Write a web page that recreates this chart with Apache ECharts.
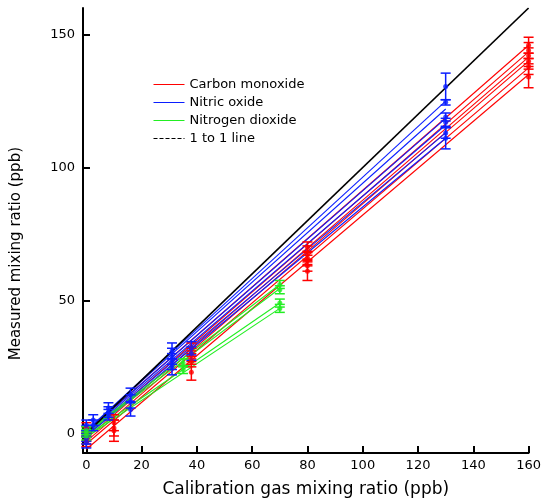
<!DOCTYPE html>
<html>
<head>
<meta charset="utf-8">
<script src="https://cdn.jsdelivr.net/npm/echarts@6/dist/echarts.min.js"></script>
<style>html,body{margin:0;padding:0;background:#fff}#c{width:544px;height:503px}</style>
</head>
<body>
<div id="c"></div>
<script>
// ---- Data ----
const xTicks = [0, 20, 40, 60, 80, 100, 120, 140, 160];
const yTicks = [0, 50, 100, 150];

// Carbon monoxide: calibration levels, measured values and error half-widths
const coLevels = [0, 10, 38, 80, 160];
const coValues = [[2, 0.5, -1, -2, -3], [4, 2, 1], [32, 30, 29, 27, 23], [70, 68, 66, 65, 63, 61], [146, 144, 142, 140, 138, 134]];
const coErrors = [[2, 2, 2, 2, 2], [3, 3, 4], [2, 2, 2, 2, 3], [2, 2.5, 2.5, 2, 2, 3.5], [3, 3, 3, 3, 3, 4]];
const coFitX = [0, 160];
const coFitStart = [0.5, -1, -2, -3, -4, -6];
const coFitEnd = [146, 143.5, 141.5, 140, 137.5, 135];

// Nitric oxide
const noLevels = [0, 2.5, 8, 16, 31, 38, 130];
const noValues = [[3, 1, -1, -2, -3.5], [5, 3], [9.5, 8, 7], [14.5, 12, 9], [31, 29, 27, 25], [32, 30], [130.5, 124.5, 119, 117, 113, 111]];
const noErrors = [[2, 2, 2, 2, 2], [2, 2], [2, 2, 2], [2.5, 2.5, 2.5], [3, 3, 3, 3], [2.5, 2.5], [5, 1, 1.5, 1.5, 2, 4]];
const noFitX = [0, 130];
const noFitStart = [1, 1, 0.5, 0, -0.5, -1];
const noFitEnd = [125, 122, 118.5, 116, 113, 111];

// Nitrogen dioxide
const no2Levels = [0, 35, 70];
const no2Values = [[1, 0, -1], [26.5, 24], [56, 54, 49, 47]];
const no2Errors = [[1.5, 1.5, 1.5], [1.5, 1.5], [1.5, 1.5, 1.5, 1.5]];
const no2FitX = [0, 70];
const no2FitStart = [0.5, 0, -1, -1.5];
const no2FitEnd = [56, 54.5, 49, 47];

// 1 to 1 line
const oneToOneX = [0, 160];
const oneToOneY = [0, 160];

const RED = '#ff0000', BLUE = '#0a1eff', GREEN = '#22ee22';

function points(levels, values, errors) {
  const out = [];
  levels.forEach((x, i) => values[i].forEach((y, j) => out.push([x, y, errors[i][j]])));
  return out;
}
function fitSeries(name, xs, starts, ends, color) {
  return starts.map((s, i) => ({
    type: 'line', name: name, data: [[xs[0], s], [xs[1], ends[i]]],
    symbol: 'none', silent: true, animation: false,
    itemStyle: { color: color },
    lineStyle: { color: color, width: 1.1 }, z: 2
  }));
}
function errSeries(name, data, color) {
  return {
    type: 'custom', name: name, data: data, animation: false, z: 4,
    renderItem: function (params, api) {
      const x = api.value(0), y = api.value(1), e = api.value(2);
      const top = api.coord([x, y + e]), bot = api.coord([x, y - e]);
      const w = 5;
      const st = { stroke: color, lineWidth: 1.5 };
      return { type: 'group', children: [
        { type: 'line', shape: { x1: top[0], y1: top[1], x2: bot[0], y2: bot[1] }, style: st },
        { type: 'line', shape: { x1: top[0] - w, y1: top[1], x2: top[0] + w, y2: top[1] }, style: st },
        { type: 'line', shape: { x1: bot[0] - w, y1: bot[1], x2: bot[0] + w, y2: bot[1] }, style: st }
      ]};
    },
    encode: { x: 0, y: [1, 2] }
  };
}
function ptSeries(name, data, color) {
  return { type: 'scatter', name: name, data: data.map(d => [d[0], d[1]]), symbolSize: 5,
    itemStyle: { color: color }, animation: false, z: 5 };
}

const coPts = points(coLevels, coValues, coErrors);
const noPts = points(noLevels, noValues, noErrors);
const no2Pts = points(no2Levels, no2Values, no2Errors);

const series = [].concat(
  fitSeries('Carbon monoxide', coFitX, coFitStart, coFitEnd, RED),
  fitSeries('Nitric oxide', noFitX, noFitStart, noFitEnd, BLUE),
  fitSeries('Nitrogen dioxide', no2FitX, no2FitStart, no2FitEnd, GREEN),
  [{ type: 'line', name: '1 to 1 line', data: [[oneToOneX[0], oneToOneY[0]], [oneToOneX[1], oneToOneY[1]]],
     symbol: 'none', animation: false, itemStyle: { color: '#000' }, lineStyle: { color: '#000', width: 1.7 }, z: 3 }],
  [errSeries('co err', coPts, RED), errSeries('no err', noPts, BLUE), errSeries('no2 err', no2Pts, GREEN),
   ptSeries('co pts', coPts, RED), ptSeries('no pts', noPts, BLUE), ptSeries('no2 pts', no2Pts, GREEN)]
);

const chart = echarts.init(document.getElementById('c'), null, { renderer: 'canvas' });
const font = '"DejaVu Sans", Verdana, sans-serif';
chart.setOption({
  animation: false,
  textStyle: { fontFamily: font },
  grid: { left: 83, right: 13, top: 8, bottom: 49, containLabel: false },
  legend: {
    orient: 'vertical', left: 153, top: 78, padding: 0, itemGap: 5,
    itemWidth: 31, itemHeight: 10, selectedMode: false,
    itemStyle: { opacity: 0 },
    textStyle: { fontSize: 13, color: '#000', fontFamily: font },
    data: [
      { name: 'Carbon monoxide', lineStyle: { color: RED, width: 1 } },
      { name: 'Nitric oxide', lineStyle: { color: BLUE, width: 1 } },
      { name: 'Nitrogen dioxide', lineStyle: { color: GREEN, width: 1 } },
      { name: '1 to 1 line', lineStyle: { color: '#000', width: 1, type: 'dashed' } }
    ]
  },
  xAxis: {
    type: 'value', min: -1.2, max: 160,
    name: 'Calibration gas mixing ratio (ppb)', nameLocation: 'middle', nameGap: 28,
    nameTextStyle: { fontSize: 17, color: '#000', fontFamily: font },
    axisLine: { onZero: false, lineStyle: { color: '#000', width: 2 } },
    axisTick: { inside: true, length: 7, lineStyle: { color: '#000', width: 2 }, customValues: xTicks },
    axisLabel: { fontSize: 13, color: '#000', margin: 6, customValues: xTicks },
    splitLine: { show: false }
  },
  yAxis: {
    type: 'value', min: -7.4, max: 160,
    axisLine: { show: true, onZero: false, lineStyle: { color: '#000', width: 2 } },
    axisTick: { show: true, inside: true, length: 7, lineStyle: { color: '#000', width: 2 }, customValues: yTicks },
    axisLabel: { fontSize: 13, color: '#000', margin: 8, customValues: yTicks },
    splitLine: { show: false }
  },
  graphic: [{
    type: 'text', left: 9, top: 147, rotation: Math.PI / 2,
    style: { text: 'Measured mixing ratio (ppb)', fill: '#000', font: '15px ' + font }
  }],
  series: series
});
</script>
</body>
</html>
